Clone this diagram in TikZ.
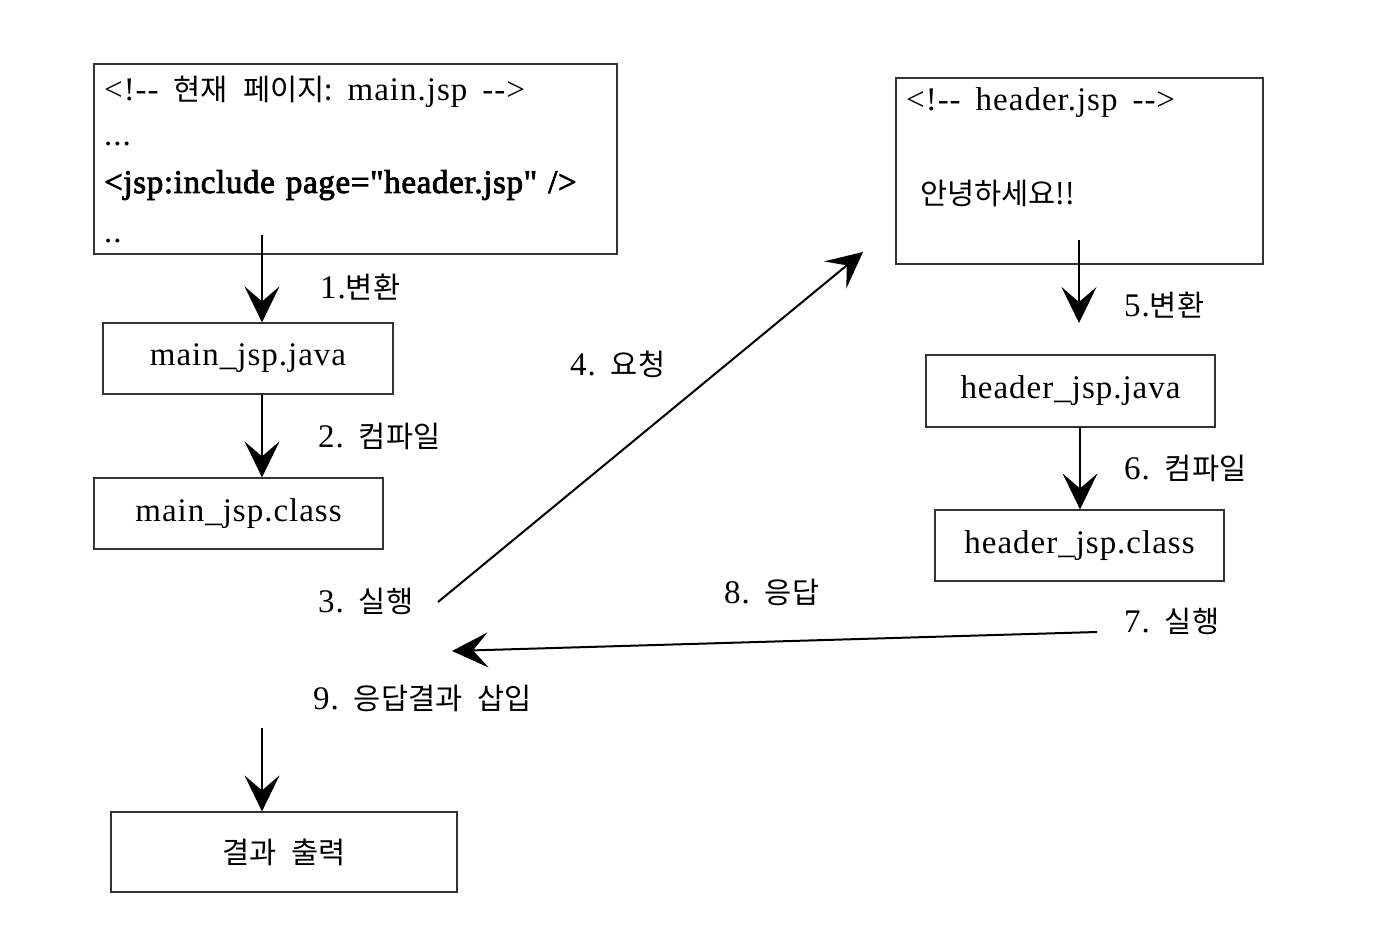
\documentclass[tikz,border=0pt]{standalone}
\usepackage{fontspec}
\setmainfont{Liberation Serif}[LetterSpace=3, Ligatures=TeXOff]
\newfontfamily\semib{Liberation Serif}[LetterSpace=2, Ligatures=TeXOff, FakeBold=2.5]
\newfontfamily\kr{Noto Sans CJK KR}
\usetikzlibrary{arrows.meta}
\newcommand\gap{\hspace{15pt}}
\newcommand\ko[1]{{\kr\fontsize{29.5}{34}\selectfont #1}}
\begin{document}
\begin{tikzpicture}[x=1pt,y=-1pt,
  font=\fontsize{33}{38}\selectfont,
  box/.style={draw=black!80, line width=1.2pt, inner sep=0pt},
  arr/.style={-{Stealth[length=36pt,width=35pt,inset=15pt]}, line width=2pt},
  lbl/.style={anchor=base west, inner sep=0pt}]
\useasboundingbox (0,0) rectangle (1380,933);

% main.jsp source box
\node[box, minimum width=523pt, minimum height=190pt] (mainsrc) at (355.5,159) {};
\node[lbl] (l1) at (104,101) {<!--\gap\ko{현재}\gap\ko{페이지:}\gap main.jsp\gap-->};
\node[lbl] (l2) at (104,146) {...};
\node[lbl] (l3) at (104,193) {\semib <jsp:include\hspace{11pt}page="header.jsp"\hspace{11pt}/>};
\node[lbl] (l4) at (104,243) {..};

\node[box, minimum width=290pt, minimum height=71pt] (mainjava) at (248,358.5) {main\_jsp.java};
\node[box, minimum width=289pt, minimum height=71pt] (mainclass) at (238.5,513.5) {main\_jsp.class};

% header.jsp box
\node[box, minimum width=367pt, minimum height=186pt] (hdrsrc) at (1079.5,171) {};
\node[lbl] (h1) at (906,111) {<!--\gap header.jsp\gap-->};
\node[lbl] (h2) at (920,205) {\ko{안녕하세요!!}};

\node[box, minimum width=289pt, minimum height=72pt] (hdrjava) at (1070.5,391) {header\_jsp.java};
\node[box, minimum width=289pt, minimum height=71pt] (hdrclass) at (1079.5,545.5) {header\_jsp.class};

\node[box, minimum width=346pt, minimum height=80pt] (result) at (284,852) {\ko{결과}\gap\ko{출력}};

% labels
\node[lbl] (t1) at (320,298) {1.\ko{변환}};
\node[lbl] (t2) at (318,447) {2.\gap\ko{컴파일}};
\node[lbl] (t3) at (318,612) {3.\gap\ko{실행}};
\node[lbl] (t4) at (570,375) {4.\gap\ko{요청}};
\node[lbl] (t5) at (1124,316) {5.\ko{변환}};
\node[lbl] (t6) at (1124,479) {6.\gap\ko{컴파일}};
\node[lbl] (t7) at (1124,632) {7.\gap\ko{실행}};
\node[lbl] (t8) at (724,603) {8.\gap\ko{응답}};
\node[lbl] (t9) at (313,709) {9.\gap\ko{응답결과}\gap\ko{삽입}};

% connectors
\coordinate (a1s) at (262,235);
\coordinate (a2s) at (262,394.5);
\coordinate (a4s) at (438,602);
\coordinate (a4e) at (863,252);
\coordinate (a5s) at (1079,240);
\coordinate (a5e) at (1079,323);
\coordinate (a6s) at (1080,427);
\coordinate (a8s) at (1097,632);
\coordinate (a8e) at (452,651);
\coordinate (a9s) at (262,728);

\draw[arr] (a1s) -- (a1s |- mainjava.north);
\draw[arr] (a2s) -- (a2s |- mainclass.north);
\draw[arr] (a4s) -- (a4e);
\draw[arr] (a5s) -- (a5e);
\draw[arr] (a6s) -- (a6s |- hdrclass.north);
\draw[arr] (a8s) -- (a8e);
\draw[arr] (a9s) -- (a9s |- result.north);
\end{tikzpicture}
\end{document}
